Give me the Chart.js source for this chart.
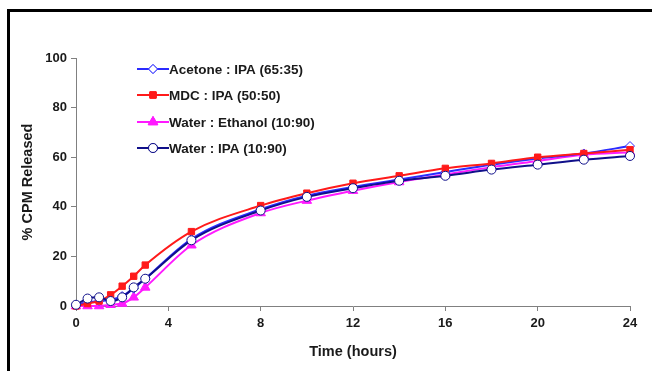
<!DOCTYPE html>
<html>
<head>
<meta charset="utf-8">
<script src="https://cdn.jsdelivr.net/npm/chart.js@4"></script>
<style>
  html, body { margin: 0; padding: 0; background: #fff; }
  #wrap { width: 652px; height: 371px; position: relative; }
</style>
</head>
<body>
<div id="wrap"><canvas id="c" width="652" height="371"></canvas></div>
<script>
// Datos
const hours = [0, 0.5, 1, 1.5, 2, 2.5, 3, 5, 8, 10, 12, 14, 16, 18, 20, 22, 24];
const acetoneIpa  = [0.5, 1.5, 2, 2.5, 4, 7, 11, 27, 39, 44.5, 48, 51, 54, 57, 59.5, 61.5, 64.5];
const mdcIpa      = [0, 1, 2, 4.5, 8, 12, 16.5, 30, 40.5, 45.5, 49.5, 52.5, 55.5, 57.5, 60, 61.5, 63];
const waterEtoh   = [0, 0, 0, 0.5, 1, 3.5, 7.5, 24.5, 37.5, 42.5, 46.5, 50, 53, 56, 58.5, 61, 62];
const waterIpa    = [0.5, 3, 3.5, 2, 3.5, 7.5, 11, 26.5, 38.5, 44, 47.5, 50.5, 52.5, 55, 57, 59, 60.5];
const seriesNames = ['Acetone : IPA (65:35)', 'MDC : IPA (50:50)', 'Water : Ethanol (10:90)', 'Water : IPA (10:90)'];
const xTicks = [0, 4, 8, 12, 16, 20, 24];
const yTicks = [0, 20, 40, 60, 80, 100];

const FONT = '"Liberation Sans", Arial, sans-serif';

function pts(vals) {
  return hours.map((h, i) => ({ x: h, y: vals[i] }));
}

// Estilos de cada serie
const styles = [
  { color: '#2b2bff', style: 'rectRot',  radius: 4.5, fill: '#ffffff' },
  { color: '#ff1a1a', style: 'rect',     radius: 4.5, fill: '#ff1a1a' },
  { color: '#ff1aff', style: 'triangle', radius: 5.5, fill: '#ff1aff' },
  { color: '#10108a', style: 'circle',   radius: 4.5, fill: '#ffffff' }
];
const allVals = [acetoneIpa, mdcIpa, waterEtoh, waterIpa];

const datasets = allVals.map((v, i) => ({
  label: seriesNames[i],
  data: pts(v),
  borderColor: styles[i].color,
  backgroundColor: styles[i].fill,
  pointStyle: styles[i].style,
  pointRadius: styles[i].radius,
  pointBorderColor: styles[i].color,
  pointBackgroundColor: styles[i].fill,
  pointBorderWidth: 1,
  borderWidth: 2,
  clip: false,
  cubicInterpolationMode: 'monotone',
  order: [2, 1, 3, 0][i]
}));

// Marco negro y leyenda dentro del área
const decor = {
  id: 'decor',
  afterDraw(chart) {
    const ctx = chart.ctx;
    ctx.save();
    ctx.fillStyle = '#000';
    ctx.fillRect(7, 9, 645, 3);
    ctx.fillRect(7, 9, 3, 362);

    const rows = [69, 95, 122, 148];
    ctx.font = 'bold 13.5px ' + FONT;
    ctx.textBaseline = 'middle';
    rows.forEach((y, i) => {
      const s = styles[i];
      ctx.strokeStyle = s.color;
      ctx.lineWidth = 2;
      ctx.beginPath();
      ctx.moveTo(137, y);
      ctx.lineTo(169, y);
      ctx.stroke();
      ctx.fillStyle = s.fill;
      ctx.lineWidth = 1;
      Chart.helpers.drawPoint(ctx, { pointStyle: s.style, radius: s.radius, rotation: 0, borderWidth: 1 }, 153, y);
      ctx.fill();
      ctx.stroke();
      ctx.fillStyle = '#1a1a1a';
      ctx.textAlign = 'left';
      ctx.fillText(seriesNames[i], 169, y + 1);
    });
    ctx.restore();
  }
};

new Chart(document.getElementById('c'), {
  type: 'line',
  data: { datasets },
  plugins: [decor],
  options: {
    responsive: false,
    animation: false,
    layout: { padding: { left: 19, top: 58, right: 22, bottom: 10 } },
    plugins: { legend: { display: false }, tooltip: { enabled: false } },
    scales: {
      x: {
        type: 'linear', min: 0, max: 24,
        afterBuildTicks: s => { s.ticks = xTicks.map(v => ({ value: v })); },
        grid: { drawOnChartArea: false, drawTicks: true, tickLength: 5, color: '#808080' },
        border: { display: true, color: '#808080', width: 1 },
        ticks: { color: '#1a1a1a', font: { family: FONT, size: 13, weight: 'bold' }, padding: 5, maxRotation: 0 },
        title: { display: true, text: 'Time (hours)', color: '#1a1a1a', font: { family: FONT, size: 14.5, weight: 'bold' }, padding: { top: 4, bottom: 0 } },
        afterFit: s => { s.height = 55; }
      },
      y: {
        min: 0, max: 100,
        afterBuildTicks: s => { s.ticks = yTicks.map(v => ({ value: v })); },
        grid: { drawOnChartArea: false, drawTicks: true, tickLength: 5, color: '#808080' },
        border: { display: true, color: '#808080', width: 1 },
        ticks: { color: '#1a1a1a', font: { family: FONT, size: 13, weight: 'bold' }, padding: 4 },
        title: { display: true, text: '% CPM Released', color: '#1a1a1a', font: { family: FONT, size: 14.5, weight: 'bold' }, padding: { top: 0, bottom: 8 } },
        afterFit: s => { s.width = 57; }
      }
    }
  }
});
</script>
</body>
</html>
